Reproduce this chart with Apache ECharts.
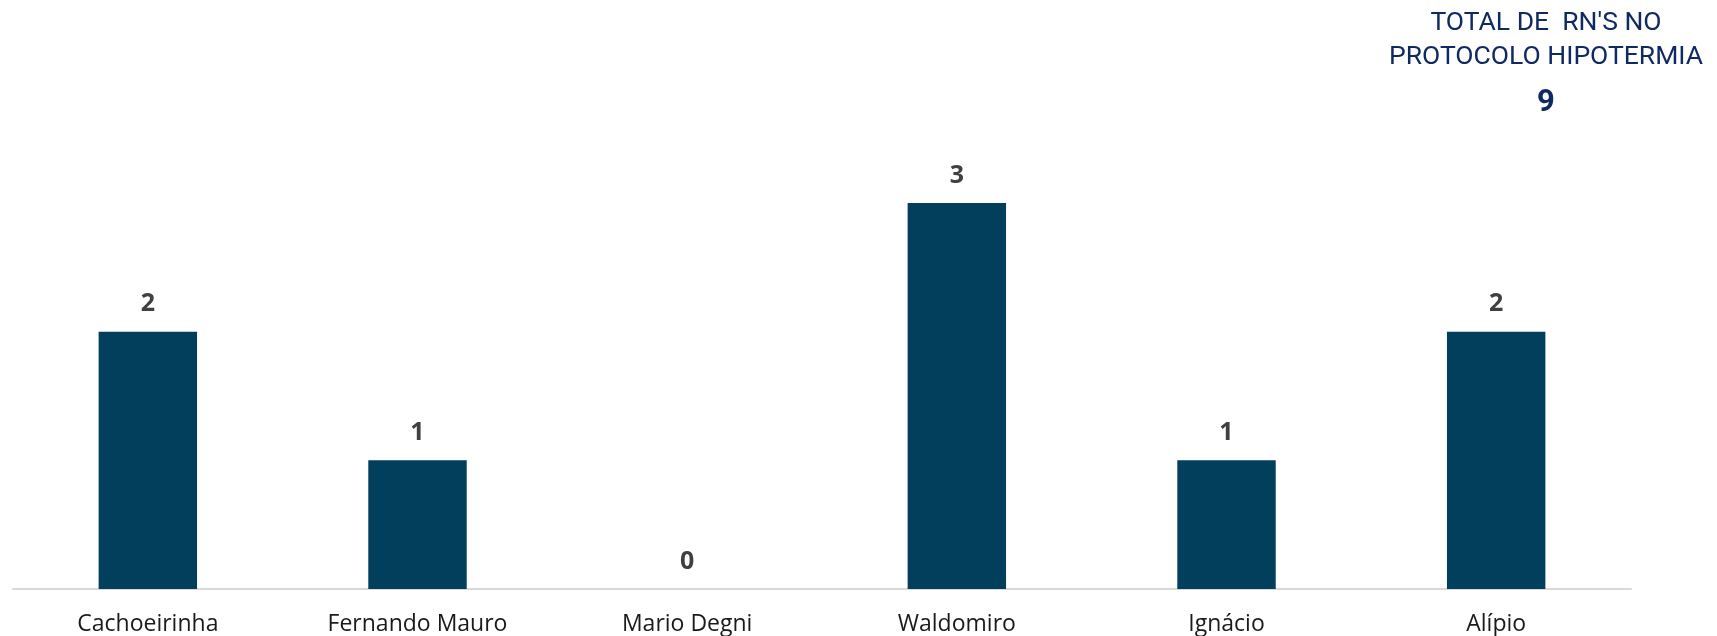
<!DOCTYPE html>
<html>
<head>
<meta charset="utf-8">
<style>
  html, body { margin: 0; padding: 0; background: #ffffff; }
  #chart { width: 1717px; height: 636px; }
</style>
<script src="https://cdn.jsdelivr.net/npm/echarts@6/dist/echarts.min.js"></script>
</head>
<body>
<div id="chart"></div>
<script>
// Newborns placed on the hypothermia protocol, by unit
const categories = ['Cachoeirinha', 'Fernando Mauro', 'Mario Degni', 'Waldomiro', 'Ignácio', 'Alípio'];
const values = [2, 1, 0, 3, 1, 2];
const totalTitle = "TOTAL DE  RN'S NO\nPROTOCOLO HIPOTERMIA";

const total = values.reduce((a, b) => a + b, 0);

const chart = echarts.init(document.getElementById('chart'));
chart.setOption({
  backgroundColor: '#ffffff',
  animation: false,
  grid: { left: 13, right: 86, top: 203, bottom: 47 },
  xAxis: {
    type: 'category',
    data: categories,
    axisLine: { lineStyle: { color: '#d9d9d9', width: 2 } },
    axisTick: { show: false },
    axisLabel: {
      color: '#1a1a1a',
      fontFamily: 'Open Sans',
      fontSize: 23,
      margin: 24
    }
  },
  yAxis: {
    type: 'value',
    min: 0,
    max: 3,
    show: false,
    splitLine: { show: false }
  },
  series: [{
    type: 'bar',
    data: values,
    barWidth: '36.5%',
    itemStyle: { color: '#013f5c' },
    label: {
      show: true,
      position: 'top',
      distance: 15,
      color: '#404040',
      fontFamily: 'Open Sans',
      fontWeight: 'bold',
      fontSize: 25
    }
  }],
  graphic: [
    {
      type: 'text',
      x: 1546,
      y: 6,
      style: {
        text: totalTitle,
        fill: '#0f2a63',
        font: '26.5px Roboto',
        textAlign: 'center',
        lineHeight: 34
      }
    },
    {
      type: 'text',
      x: 1546,
      y: 88,
      style: {
        text: String(total),
        fill: '#0f2a63',
        font: 'bold 31px Roboto',
        textAlign: 'center'
      }
    }
  ]
});
</script>
</body>
</html>
